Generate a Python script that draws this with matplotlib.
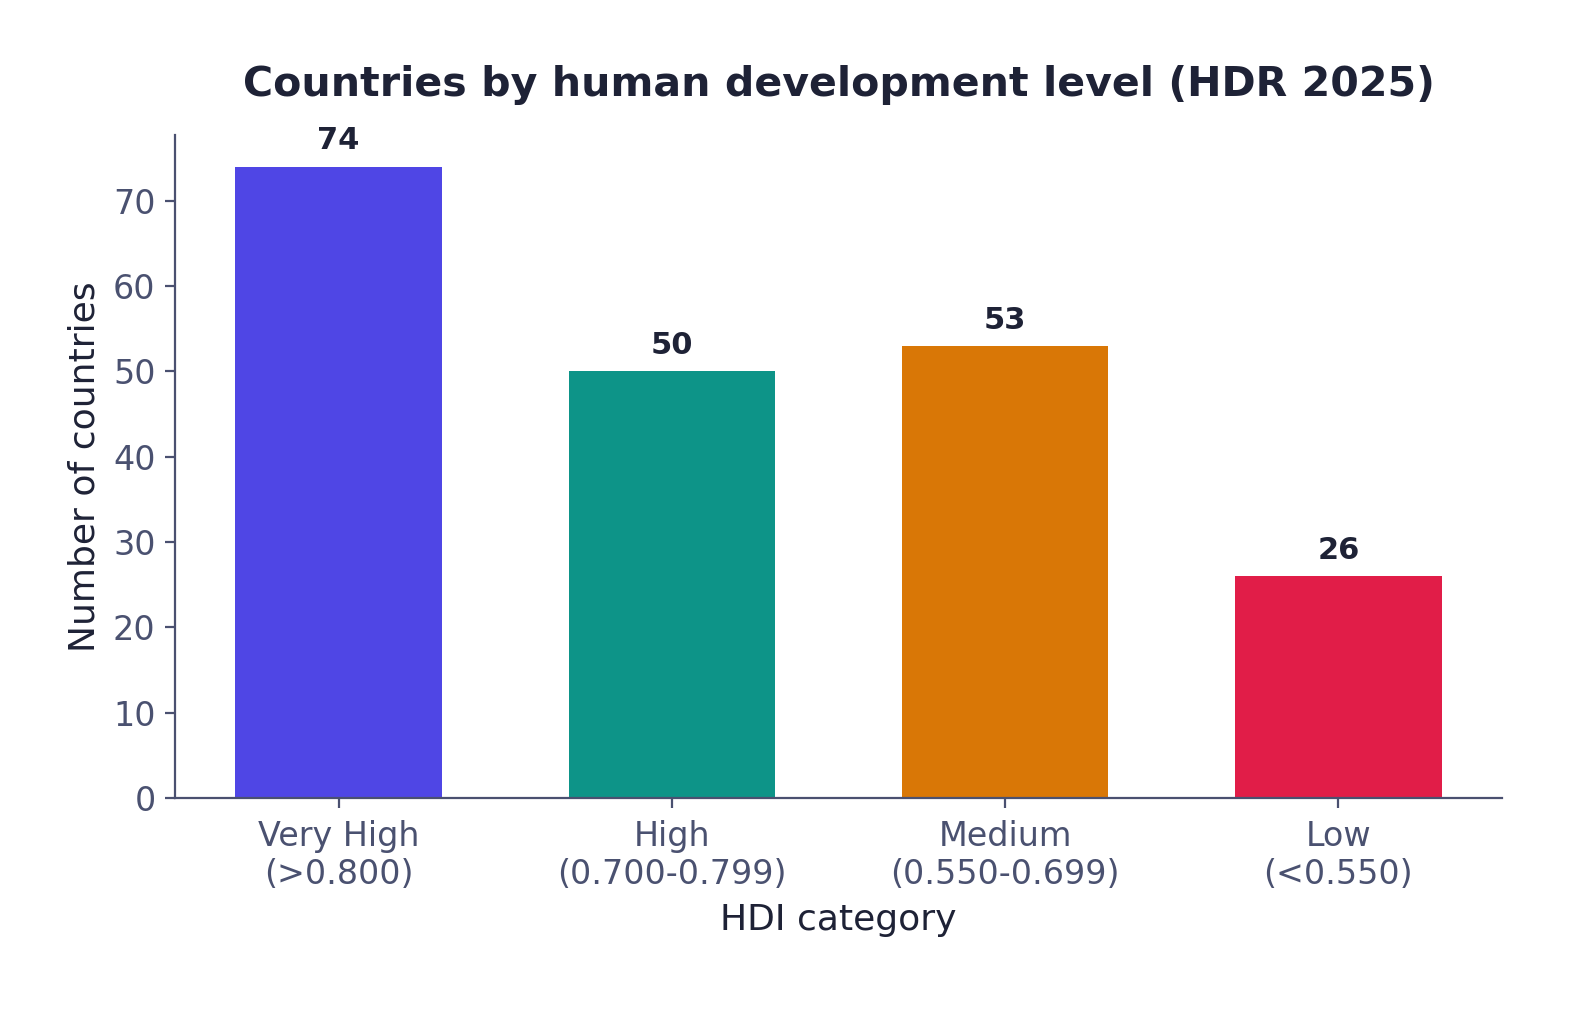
#!/usr/bin/env python3
import matplotlib
matplotlib.use("Agg")
import matplotlib.pyplot as plt

categories = ["Very High\n(>0.800)", "High\n(0.700-0.799)", "Medium\n(0.550-0.699)", "Low\n(<0.550)"]
counts = [74, 50, 53, 26]
colors = ["#4F46E5", "#0D9488", "#D97706", "#E11D48"]

DARK = "#1E2236"
MUTED = "#4A5170"


def main():
    plt.rcParams["font.family"] = ["DejaVu Sans"]
    fig = plt.figure(figsize=(7.9, 5.045), dpi=200)
    ax = fig.add_axes([0.1108, 0.2091, 0.8398, 0.6571])

    x = range(len(categories))
    bars = ax.bar(x, counts, width=0.62, color=colors)

    for b, v in zip(bars, counts):
        ax.annotate(str(v), (b.get_x() + b.get_width() / 2, v),
                    xytext=(0, 4), textcoords="offset points",
                    ha="center", va="bottom", fontsize=11,
                    fontweight="bold", color=DARK)

    ax.set_xticks(list(x))
    ax.set_xticklabels(categories)
    ax.set_ylim(0, max(counts) * 1.05)

    ax.set_title("Countries by human development level (HDR 2025)",
                 fontsize=14.8, fontweight="bold", color=DARK, pad=14)
    ax.set_xlabel("HDI category", fontsize=13, color=DARK, labelpad=4)
    ax.set_ylabel("Number of countries", fontsize=13, color=DARK)

    ax.spines["top"].set_visible(False)
    ax.spines["right"].set_visible(False)
    for s in ("left", "bottom"):
        ax.spines[s].set_color("#4A5070")
        ax.spines[s].set_linewidth(0.8)
    ax.tick_params(colors="#4A5070", labelcolor=MUTED, labelsize=12)
    ax.tick_params(axis="x", pad=4.5)

    fig.savefig("out.png", dpi=200)
    plt.close(fig)


if __name__ == "__main__":
    main()
